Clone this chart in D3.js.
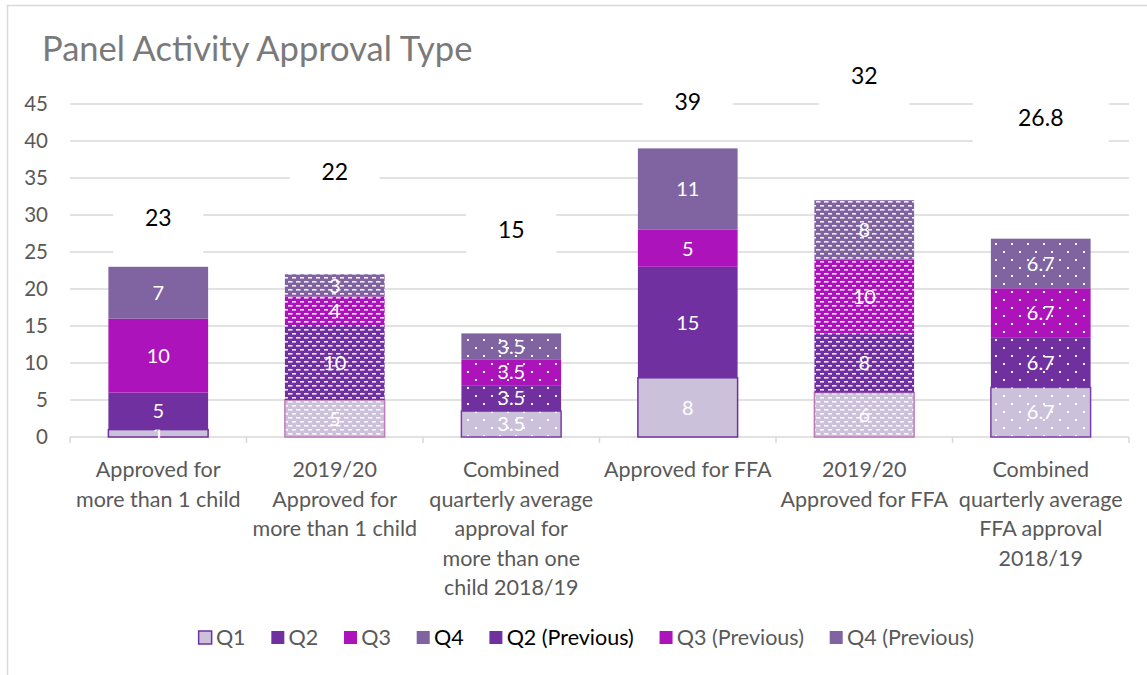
<!DOCTYPE html>
<html>
<head>
  <meta charset="utf-8">
  <title>Panel Activity Approval Type</title>
  <script src="https://d3js.org/d3.v7.min.js"></script>
  <style>
    body { margin: 0; background: #fff; }
    svg { display: block; font-family: Lato, 'Open Sans', sans-serif; }
  </style>
</head>
<body>
  <script>
    // categories, one entry per bar (lines as they wrap under the axis)
    const categories = [
      ["Approved for", "more than 1 child"],
      ["2019/20", "Approved for", "more than 1 child"],
      ["Combined", "quarterly average", "approval for", "more than one", "child 2018/19"],
      ["Approved for FFA"],
      ["2019/20", "Approved for FFA"],
      ["Combined", "quarterly average", "FFA approval", "2018/19"]
    ];
    // fill style of each bar: plain, dashed or dotted
    const barPattern = ["none", "dash", "dot", "none", "dash", "dot"];

    const quarters = ["Q1", "Q2", "Q3", "Q4"];
    const q1 = [1, 5, 3.5, 8, 6, 6.7];
    const q2 = [5, 10, 3.5, 15, 8, 6.7];
    const q3 = [10, 4, 3.5, 5, 10, 6.7];
    const q4 = [7, 3, 3.5, 11, 8, 6.7];

    // totals as printed above each bar, and the value height where each is printed
    const totals = ["23", "22", "15", "39", "32", "26.8"];
    const totalLabelAt = [29.6, 35.8, 28.0, 45.3, 48.8, 43.2];

    const yTicks = [0, 5, 10, 15, 20, 25, 30, 35, 40, 45];

    const legendItems = ["Q1", "Q2", "Q3", "Q4", "Q2 (Previous)", "Q3 (Previous)", "Q4 (Previous)"];
    const legendColors = ["Q1", "Q2", "Q3", "Q4", "Q2", "Q3", "Q4"];
    const legendDark = [false, false, false, true, true, false, false];

    const colors = { Q1: "#ccc1da", Q2: "#7030a0", Q3: "#ac13bb", Q4: "#8064a2" };
    const q1Border = { none: "#7030a0", dash: "#c07ab8", dot: "#7b3fa8" };

    const width = 1147, height = 675;
    const margin = { left: 70, right: 18, top: 104, bottom: 238 };

    const svg = d3.select("body").append("svg")
      .attr("width", width)
      .attr("height", height);

    // chart frame
    svg.append("rect")
      .attr("x", 7.5).attr("y", 5.5)
      .attr("width", width + 10).attr("height", height + 10)
      .attr("fill", "none").attr("stroke", "#d9d9d9").attr("stroke-width", 1.5);

    // patterns: series colour behind white dashes / dots
    const defs = svg.append("defs");
    quarters.forEach(q => {
      const pd = defs.append("pattern")
        .attr("id", "dash-" + q)
        .attr("patternUnits", "userSpaceOnUse")
        .attr("width", 8).attr("height", 8);
      pd.append("rect").attr("width", 8).attr("height", 8).attr("fill", colors[q]);
      pd.append("rect").attr("x", 0).attr("y", 1).attr("width", 4.5).attr("height", 1.6).attr("fill", "#fff").attr("opacity", 0.9);
      pd.append("rect").attr("x", 4).attr("y", 5).attr("width", 4.5).attr("height", 1.6).attr("fill", "#fff").attr("opacity", 0.9);

      const pt = defs.append("pattern")
        .attr("id", "dot-" + q)
        .attr("patternUnits", "userSpaceOnUse")
        .attr("width", 16).attr("height", 16);
      pt.append("rect").attr("width", 16).attr("height", 16).attr("fill", colors[q]);
      pt.append("rect").attr("x", 3).attr("y", 3).attr("width", 2).attr("height", 2).attr("fill", "#fff");
      pt.append("rect").attr("x", 11).attr("y", 11).attr("width", 2).attr("height", 2).attr("fill", "#fff");
    });

    const x = d3.scaleBand()
      .domain(d3.range(categories.length))
      .range([margin.left, width - margin.right])
      .paddingInner(0.435)
      .paddingOuter(0.2175);

    const y = d3.scaleLinear()
      .domain([0, 45])
      .range([height - margin.bottom, margin.top]);

    // title
    svg.append("text")
      .attr("x", 42).attr("y", 61)
      .attr("fill", "#7a7a7a")
      .attr("font-size", 34.5)
      .text("Panel Activity Approval Type");

    // gridlines
    svg.append("g")
      .selectAll("line")
      .data(yTicks.filter(d => d > 0))
      .join("line")
      .attr("x1", margin.left).attr("x2", width - margin.right)
      .attr("y1", d => y(d)).attr("y2", d => y(d))
      .attr("stroke", "#d9d9d9").attr("stroke-width", 1.5);

    // y axis labels
    const yAxis = svg.append("g")
      .attr("transform", `translate(${margin.left},0)`)
      .call(d3.axisLeft(y).tickValues(yTicks).tickSize(0).tickPadding(22));
    yAxis.select(".domain").remove();
    yAxis.selectAll("text")
      .attr("fill", "#595959")
      .attr("font-size", 20.5)
      .attr("font-family", "Lato, sans-serif");

    // x axis line and ticks at category boundaries
    const xStep = x.step();
    const boundaries = d3.range(categories.length + 1).map(i => margin.left + x.paddingOuter() * xStep - x.paddingInner() * xStep / 2 + i * xStep);
    svg.append("line")
      .attr("x1", margin.left).attr("x2", width - margin.right)
      .attr("y1", y(0)).attr("y2", y(0))
      .attr("stroke", "#d9d9d9").attr("stroke-width", 1.5);
    svg.append("g")
      .selectAll("line")
      .data(boundaries)
      .join("line")
      .attr("x1", d => d).attr("x2", d => d)
      .attr("y1", y(0)).attr("y2", y(0) + 6)
      .attr("stroke", "#d9d9d9").attr("stroke-width", 1.5);

    // stacked data
    const table = categories.map((c, i) => ({ i, Q1: q1[i], Q2: q2[i], Q3: q3[i], Q4: q4[i] }));
    const stack = d3.stack().keys(quarters)(table);

    function fillFor(q, i) {
      const p = barPattern[i];
      return p === "none" ? colors[q] : `url(#${p}-${q})`;
    }

    const layers = svg.append("g")
      .selectAll("g")
      .data(stack)
      .join("g");

    layers.selectAll("rect")
      .data(s => s.map(d => ({ q: s.key, d })))
      .join("rect")
      .attr("x", o => x(o.d.data.i))
      .attr("width", x.bandwidth())
      .attr("y", o => y(o.d[1]))
      .attr("height", o => y(o.d[0]) - y(o.d[1]))
      .attr("fill", o => fillFor(o.q, o.d.data.i))
      .attr("stroke", o => o.q === "Q1" ? q1Border[barPattern[o.d.data.i]] : "none")
      .attr("stroke-width", 1.5);

    // segment labels
    layers.selectAll("text")
      .data(s => s.map(d => ({ q: s.key, d })))
      .join("text")
      .attr("x", o => x(o.d.data.i) + x.bandwidth() / 2)
      .attr("y", o => y((o.d[0] + o.d[1]) / 2))
      .attr("dy", "0.36em")
      .attr("text-anchor", "middle")
      .attr("fill", "#fff")
      .attr("font-size", 20)
      .text(o => o.d.data[o.q]);

    // totals with white boxes
    const tg = svg.append("g")
      .selectAll("g")
      .data(totals)
      .join("g")
      .attr("transform", (t, i) => `translate(${x(i) + x.bandwidth() / 2},${y(totalLabelAt[i])})`);
    tg.append("rect")
      .attr("x", t => -(t.length * 11.5 + 22))
      .attr("width", t => t.length * 23 + 44)
      .attr("y", -17).attr("height", 53)
      .attr("fill", "#fff");
    tg.append("text")
      .attr("text-anchor", "middle")
      .attr("dy", "0.36em")
      .attr("fill", "#000")
      .attr("font-size", 23)
      .text(t => t);

    // category labels
    svg.append("g")
      .selectAll("text")
      .data(categories)
      .join("text")
      .attr("x", (c, i) => x(i) + x.bandwidth() / 2)
      .attr("y", 477)
      .attr("text-anchor", "middle")
      .attr("fill", "#595959")
      .attr("font-size", 21.5)
      .selectAll("tspan")
      .data(c => c)
      .join("tspan")
      .attr("x", function () { return this.parentNode.getAttribute("x"); })
      .attr("dy", (l, j) => j === 0 ? 0 : 29.5)
      .text(l => l);

    // legend
    const legend = svg.append("g");
    let lx = 0;
    legendItems.forEach((name, i) => {
      const g = legend.append("g").attr("transform", `translate(${lx},0)`);
      const q = legendColors[i];
      g.append("rect")
        .attr("x", 0.75).attr("y", -14)
        .attr("width", 13).attr("height", 13)
        .attr("fill", colors[q])
        .attr("stroke", q === "Q1" ? "#7030a0" : "none")
        .attr("stroke-width", 1.5);
      const t = g.append("text")
        .attr("x", 18).attr("y", 0)
        .attr("fill", legendDark[i] ? "#000" : "#595959")
        .attr("font-size", 21.5)
        .text(name);
      lx += 18 + t.node().getComputedTextLength() + 25;
    });
    lx -= 25;
    legend.attr("transform", `translate(${586 - lx / 2},645)`);
  </script>
</body>
</html>
